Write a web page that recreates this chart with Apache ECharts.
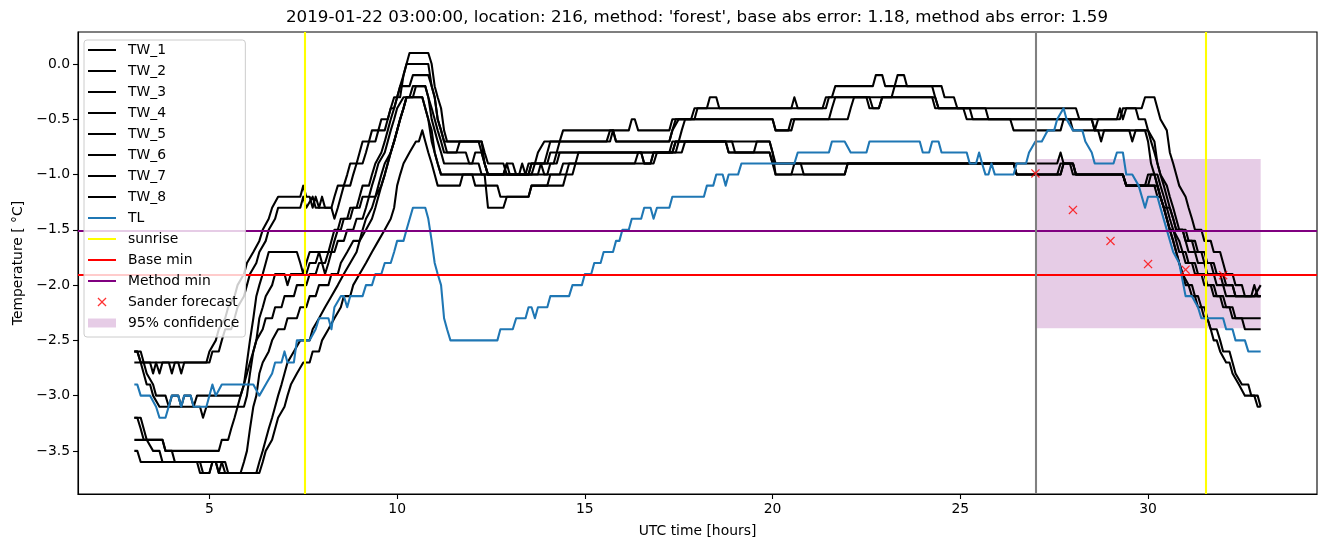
<!DOCTYPE html>
<html><head><meta charset="utf-8">
<script src="https://cdn.jsdelivr.net/npm/echarts@6/dist/echarts.min.js"></script>
<style>html,body{margin:0;padding:0;background:#fff}#c{width:1326px;height:547px}</style>
</head><body><div id="c"></div>
<script>
// ---- data: [UTC hour, temperature °C] ----
const TW_1 = [[3.0,-2.6],[3.08,-2.6],[3.17,-2.7],[3.58,-2.7],[3.67,-2.8],[3.75,-2.7],[3.92,-2.7],[4.0,-2.8],[4.08,-2.7],[4.92,-2.7],[5.0,-2.6],[5.17,-2.5],[5.25,-2.4],[5.42,-2.3],[5.5,-2.2],[5.67,-2.1],[5.75,-2.0],[5.92,-1.9],[6.0,-1.8],[6.17,-1.7],[6.33,-1.6],[6.42,-1.5],[6.58,-1.4],[6.67,-1.3],[6.83,-1.2],[7.42,-1.2],[7.5,-1.1],[7.58,-1.2],[7.67,-1.2],[7.75,-1.3],[7.83,-1.2],[7.92,-1.3],[8.0,-1.2],[8.08,-1.3],[8.25,-1.3],[8.33,-1.2],[8.42,-1.1],[8.58,-1.1],[8.67,-1.0],[8.75,-0.9],[8.92,-0.9],[9.0,-0.8],[9.08,-0.7],[9.25,-0.7],[9.33,-0.6],[9.5,-0.6],[9.58,-0.5],[9.75,-0.5],[9.83,-0.4],[9.92,-0.3],[10.08,-0.3],[10.17,-0.1],[10.25,0.0],[10.33,0.1],[10.83,0.1],[10.92,0.0],[11.0,-0.2],[11.08,-0.3],[11.17,-0.4],[11.25,-0.6],[11.33,-0.7],[12.17,-0.7],[12.25,-0.8],[12.33,-0.9],[12.42,-1.0],[13.42,-1.0],[13.5,-0.9],[13.67,-0.9],[13.75,-0.8],[13.92,-0.7],[14.33,-0.7],[14.42,-0.6],[16.17,-0.6],[16.25,-0.5],[16.33,-0.5],[16.42,-0.6],[17.25,-0.6],[17.33,-0.5],[17.83,-0.5],[17.92,-0.4],[18.25,-0.4],[18.33,-0.3],[18.5,-0.3],[18.58,-0.4],[20.5,-0.4],[20.58,-0.3],[20.67,-0.4],[21.33,-0.4],[21.42,-0.3],[21.58,-0.3],[21.67,-0.2],[22.67,-0.2],[22.75,-0.1],[22.92,-0.1],[23.0,-0.2],[24.25,-0.2],[24.33,-0.3],[24.42,-0.4],[28.08,-0.4],[28.17,-0.5],[29.25,-0.5],[29.33,-0.4],[29.83,-0.4],[29.92,-0.3],[30.17,-0.3],[30.25,-0.4],[30.33,-0.5],[30.5,-0.6],[30.58,-0.8],[30.67,-0.9],[30.75,-1.0],[30.83,-1.1],[31.0,-1.2],[31.08,-1.3],[31.17,-1.4],[31.25,-1.5],[31.42,-1.5],[31.5,-1.6],[31.67,-1.6],[31.75,-1.7],[31.92,-1.7],[32.0,-1.8],[32.08,-1.9],[32.25,-1.9],[32.33,-2.0],[32.5,-2.0],[32.58,-2.1],[32.83,-2.1],[33.0,-2.0]];
const TW_2 = [[3.0,-2.7],[3.42,-2.7],[3.5,-2.8],[3.58,-2.7],[4.17,-2.7],[4.25,-2.8],[4.33,-2.7],[5.0,-2.7],[5.08,-2.6],[5.25,-2.6],[5.33,-2.5],[5.42,-2.4],[5.58,-2.4],[5.67,-2.3],[5.75,-2.2],[5.92,-2.1],[6.0,-2.0],[6.08,-1.9],[6.25,-1.8],[6.33,-1.7],[6.5,-1.6],[6.58,-1.5],[6.75,-1.4],[6.83,-1.3],[7.42,-1.3],[7.5,-1.2],[7.58,-1.3],[7.75,-1.2],[7.83,-1.3],[8.25,-1.3],[8.33,-1.4],[8.42,-1.3],[8.5,-1.2],[8.58,-1.1],[8.75,-1.1],[8.83,-1.0],[8.92,-0.9],[9.08,-0.9],[9.17,-0.8],[9.25,-0.7],[9.42,-0.7],[9.5,-0.6],[9.67,-0.6],[9.75,-0.5],[9.83,-0.4],[9.92,-0.4],[10.0,-0.3],[10.08,-0.2],[10.17,-0.1],[10.25,0.0],[10.83,0.0],[10.92,-0.2],[11.0,-0.3],[11.08,-0.5],[11.17,-0.6],[11.25,-0.7],[11.33,-0.8],[11.58,-0.8],[11.67,-0.7],[12.25,-0.7],[12.33,-0.9],[12.42,-1.0],[12.83,-1.0],[12.92,-0.9],[13.08,-0.9],[13.17,-1.0],[13.5,-1.0],[13.58,-0.9],[13.92,-0.9],[14.0,-0.8],[14.08,-0.7],[15.58,-0.7],[15.67,-0.6],[15.75,-0.6],[15.83,-0.7],[17.25,-0.7],[17.33,-0.6],[17.42,-0.5],[17.92,-0.5],[18.0,-0.4],[21.42,-0.4],[21.5,-0.3],[22.5,-0.3],[22.58,-0.4],[22.83,-0.4],[22.92,-0.3],[23.17,-0.3],[23.25,-0.2],[23.33,-0.1],[23.5,-0.1],[23.58,-0.2],[24.5,-0.2],[24.58,-0.3],[24.83,-0.3],[24.92,-0.4],[25.08,-0.4],[25.17,-0.5],[28.5,-0.5],[28.58,-0.6],[28.67,-0.5],[29.17,-0.5],[29.25,-0.4],[29.33,-0.5],[29.42,-0.4],[29.67,-0.4],[29.75,-0.5],[29.92,-0.5],[30.0,-0.6],[30.17,-0.7],[30.25,-0.9],[30.33,-1.0],[30.5,-1.1],[30.58,-1.2],[30.67,-1.3],[30.75,-1.4],[30.83,-1.5],[31.0,-1.5],[31.08,-1.6],[31.25,-1.6],[31.33,-1.7],[31.5,-1.7],[31.58,-1.8],[31.75,-1.8],[31.83,-1.9],[32.0,-1.9],[32.08,-2.0],[32.25,-2.0],[32.33,-2.1],[33.0,-2.1]];
const TW_3 = [[3.0,-2.6],[3.17,-2.6],[3.25,-2.7],[3.33,-2.8],[3.5,-2.9],[3.58,-3.0],[3.83,-3.0],[3.92,-3.1],[4.0,-3.0],[4.17,-3.0],[4.25,-3.1],[4.33,-3.0],[4.5,-3.0],[4.58,-3.1],[4.67,-3.0],[5.83,-3.0],[5.92,-2.9],[6.0,-2.7],[6.08,-2.5],[6.17,-2.3],[6.25,-2.1],[6.33,-2.0],[6.42,-1.9],[6.5,-1.8],[6.58,-1.7],[7.33,-1.7],[7.42,-1.8],[7.5,-1.9],[7.58,-1.8],[7.67,-1.7],[7.92,-1.7],[8.0,-1.8],[8.08,-1.9],[8.17,-1.8],[8.25,-1.7],[8.33,-1.6],[8.42,-1.5],[8.5,-1.4],[8.67,-1.4],[8.75,-1.3],[8.92,-1.3],[9.0,-1.2],[9.08,-1.1],[9.25,-1.1],[9.33,-1.0],[9.42,-0.9],[9.58,-0.8],[9.67,-0.7],[9.75,-0.6],[9.83,-0.5],[9.92,-0.4],[10.0,-0.3],[10.08,-0.2],[10.33,-0.2],[10.42,-0.1],[10.83,-0.1],[10.92,-0.2],[11.0,-0.3],[11.08,-0.5],[11.17,-0.6],[11.25,-0.7],[12.25,-0.7],[12.33,-0.8],[12.42,-0.9],[12.83,-0.9],[12.92,-1.0],[13.5,-1.0],[13.58,-0.9],[14.0,-0.9],[14.08,-0.8],[14.25,-0.8],[14.33,-0.7],[15.67,-0.7],[15.75,-0.6],[15.83,-0.7],[17.25,-0.7],[17.33,-0.6],[17.5,-0.5],[20.0,-0.5],[20.08,-0.6],[20.42,-0.6],[20.5,-0.5],[21.5,-0.5],[21.58,-0.4],[21.67,-0.3],[24.25,-0.3],[24.33,-0.4],[25.67,-0.4],[25.75,-0.5],[26.33,-0.5],[26.42,-0.6],[27.67,-0.6],[27.75,-0.5],[27.92,-0.5],[28.0,-0.6],[28.67,-0.6],[28.75,-0.7],[28.83,-0.6],[29.5,-0.6],[29.58,-0.7],[29.67,-0.6],[30.0,-0.6],[30.08,-0.7],[30.17,-0.8],[30.25,-0.9],[30.33,-1.0],[30.42,-1.1],[30.5,-1.2],[30.58,-1.3],[30.67,-1.4],[30.75,-1.5],[30.92,-1.5],[31.0,-1.6],[31.17,-1.6],[31.25,-1.7],[31.42,-1.7],[31.5,-1.8],[31.67,-1.8],[31.75,-1.9],[31.92,-1.9],[32.0,-2.0],[32.25,-2.0],[32.33,-2.1],[33.0,-2.1]];
const TW_4 = [[3.0,-2.6],[3.08,-2.6],[3.17,-2.7],[3.25,-2.8],[3.33,-2.9],[3.42,-2.9],[3.5,-3.0],[3.67,-3.1],[4.75,-3.1],[4.83,-3.2],[4.92,-3.1],[5.92,-3.1],[6.0,-3.0],[6.08,-2.8],[6.17,-2.6],[6.25,-2.5],[6.33,-2.3],[6.42,-2.2],[6.5,-2.1],[6.67,-2.0],[6.75,-1.9],[7.0,-1.9],[7.08,-2.0],[7.17,-1.9],[7.58,-1.9],[7.67,-1.8],[7.83,-1.8],[7.92,-1.7],[8.17,-1.7],[8.25,-1.6],[8.33,-1.5],[8.5,-1.5],[8.58,-1.4],[8.75,-1.4],[8.83,-1.3],[9.0,-1.3],[9.08,-1.2],[9.25,-1.2],[9.33,-1.1],[9.42,-1.0],[9.5,-0.9],[9.67,-0.8],[9.75,-0.7],[9.83,-0.6],[9.92,-0.5],[10.0,-0.4],[10.17,-0.3],[10.42,-0.3],[10.5,-0.2],[10.75,-0.2],[10.83,-0.3],[10.92,-0.4],[11.0,-0.5],[11.08,-0.6],[11.17,-0.7],[11.25,-0.8],[11.83,-0.8],[11.92,-0.9],[12.0,-0.9],[12.08,-0.8],[12.25,-0.8],[12.33,-0.9],[12.42,-1.0],[13.58,-1.0],[13.67,-0.9],[14.17,-0.9],[14.25,-0.8],[16.5,-0.8],[16.58,-0.9],[16.75,-0.9],[16.83,-0.8],[17.42,-0.8],[17.5,-0.7],[17.58,-0.6],[17.67,-0.5],[20.0,-0.5],[20.08,-0.6],[20.5,-0.6],[20.58,-0.5],[22.0,-0.5],[22.08,-0.4],[22.17,-0.3],[22.58,-0.3],[22.67,-0.4],[22.83,-0.4],[22.92,-0.3],[24.33,-0.3],[24.42,-0.4],[25.25,-0.4],[25.33,-0.5],[28.5,-0.5],[28.58,-0.6],[29.92,-0.6],[30.0,-0.7],[30.08,-0.9],[30.17,-1.0],[30.25,-1.1],[30.33,-1.2],[30.42,-1.3],[30.58,-1.3],[30.67,-1.4],[30.75,-1.5],[30.92,-1.5],[31.0,-1.6],[31.08,-1.7],[31.25,-1.7],[31.33,-1.8],[31.5,-1.8],[31.58,-1.9],[31.75,-1.9],[31.83,-2.0],[32.0,-2.0],[32.08,-2.1],[32.75,-2.1],[32.83,-2.0],[32.92,-2.1],[33.0,-2.1]];
const TW_5 = [[3.0,-3.2],[3.08,-3.2],[3.17,-3.3],[3.25,-3.4],[3.75,-3.4],[3.83,-3.5],[5.25,-3.5],[5.33,-3.4],[5.5,-3.4],[5.58,-3.3],[5.67,-3.2],[5.75,-3.1],[5.83,-3.0],[5.92,-2.9],[6.0,-2.8],[6.08,-2.7],[6.17,-2.6],[6.25,-2.5],[6.42,-2.4],[6.5,-2.3],[6.67,-2.3],[6.75,-2.2],[6.92,-2.2],[7.0,-2.1],[7.25,-2.1],[7.33,-2.0],[7.58,-2.0],[7.67,-1.9],[7.83,-1.9],[7.92,-1.8],[8.08,-1.8],[8.17,-1.7],[8.33,-1.7],[8.42,-1.6],[8.58,-1.6],[8.67,-1.5],[8.83,-1.5],[8.92,-1.4],[9.08,-1.4],[9.17,-1.3],[9.25,-1.2],[9.42,-1.2],[9.5,-1.1],[9.58,-1.0],[9.67,-0.9],[9.83,-0.8],[9.92,-0.7],[10.0,-0.6],[10.08,-0.5],[10.17,-0.4],[10.25,-0.3],[10.33,-0.3],[10.42,-0.2],[10.75,-0.2],[10.83,-0.3],[10.92,-0.5],[11.0,-0.6],[11.08,-0.7],[11.17,-0.8],[11.25,-0.9],[12.17,-0.9],[12.25,-1.0],[13.25,-1.0],[13.33,-0.9],[13.42,-1.0],[14.0,-1.0],[14.08,-0.9],[14.25,-0.9],[14.33,-0.8],[16.5,-0.8],[16.58,-0.9],[16.83,-0.9],[16.92,-0.8],[17.58,-0.8],[17.67,-0.7],[18.92,-0.7],[19.0,-0.8],[19.5,-0.8],[19.58,-0.7],[19.92,-0.7],[20.0,-0.8],[20.08,-0.9],[27.58,-0.9],[27.67,-0.8],[27.75,-0.9],[28.0,-0.9],[28.08,-1.0],[29.33,-1.0],[29.42,-1.1],[29.92,-1.1],[30.0,-1.0],[30.17,-1.0],[30.25,-1.1],[30.33,-1.2],[30.42,-1.3],[30.5,-1.4],[30.58,-1.5],[30.67,-1.5],[30.75,-1.6],[30.83,-1.7],[31.0,-1.7],[31.08,-1.8],[31.25,-1.8],[31.33,-1.9],[31.5,-1.9],[31.58,-2.0],[31.75,-2.0],[31.83,-2.1],[32.0,-2.1],[32.08,-2.2],[32.25,-2.2],[32.33,-2.3],[33.0,-2.3]];
const TW_6 = [[3.0,-3.2],[3.17,-3.2],[3.25,-3.3],[3.33,-3.4],[3.5,-3.5],[3.67,-3.5],[3.75,-3.6],[4.67,-3.6],[4.75,-3.7],[5.0,-3.7],[5.08,-3.6],[5.33,-3.6],[5.42,-3.7],[5.83,-3.7],[5.92,-3.6],[6.0,-3.5],[6.08,-3.3],[6.17,-3.1],[6.25,-3.0],[6.33,-2.8],[6.42,-2.7],[6.58,-2.6],[6.67,-2.5],[6.83,-2.4],[7.0,-2.4],[7.08,-2.3],[7.33,-2.3],[7.42,-2.2],[7.58,-2.2],[7.67,-2.1],[7.83,-2.1],[7.92,-2.0],[8.17,-2.0],[8.25,-1.9],[8.42,-1.9],[8.5,-1.8],[8.67,-1.7],[8.83,-1.6],[9.0,-1.6],[9.08,-1.5],[9.17,-1.4],[9.33,-1.3],[9.42,-1.2],[9.58,-1.1],[9.67,-1.0],[9.75,-0.9],[9.83,-0.8],[9.92,-0.7],[10.0,-0.6],[10.08,-0.5],[10.17,-0.4],[10.25,-0.3],[10.67,-0.3],[10.75,-0.4],[10.83,-0.5],[10.92,-0.6],[11.0,-0.8],[11.08,-0.9],[11.17,-1.0],[12.0,-1.0],[12.08,-1.1],[12.67,-1.1],[12.75,-1.2],[13.5,-1.2],[13.58,-1.1],[14.0,-1.1],[14.08,-1.0],[14.5,-1.0],[14.58,-0.9],[16.33,-0.9],[16.42,-0.8],[17.25,-0.8],[17.33,-0.7],[18.75,-0.7],[18.83,-0.8],[19.92,-0.8],[20.0,-0.9],[26.42,-0.9],[26.5,-1.0],[27.58,-1.0],[27.67,-0.9],[27.92,-0.9],[28.0,-1.0],[29.33,-1.0],[29.42,-1.1],[30.0,-1.1],[30.08,-1.0],[30.25,-1.0],[30.33,-1.1],[30.42,-1.2],[30.5,-1.3],[30.58,-1.4],[30.67,-1.5],[30.83,-1.6],[30.92,-1.7],[31.0,-1.8],[31.17,-1.8],[31.25,-1.9],[31.42,-1.9],[31.5,-2.0],[31.67,-2.0],[31.75,-2.1],[31.92,-2.1],[32.0,-2.2],[32.17,-2.2],[32.25,-2.3],[32.5,-2.3],[32.58,-2.4],[33.0,-2.4]];
const TW_7 = [[3.0,-3.4],[3.75,-3.4],[3.83,-3.5],[4.0,-3.5],[4.08,-3.6],[5.17,-3.6],[5.25,-3.7],[5.33,-3.6],[5.42,-3.6],[5.5,-3.7],[6.25,-3.7],[6.33,-3.6],[6.42,-3.5],[6.5,-3.4],[6.58,-3.3],[6.67,-3.2],[6.75,-3.1],[6.83,-3.0],[6.92,-2.9],[7.0,-2.8],[7.08,-2.7],[7.25,-2.6],[7.42,-2.5],[7.67,-2.5],[7.75,-2.4],[7.92,-2.3],[8.08,-2.2],[8.25,-2.1],[8.42,-2.0],[8.58,-1.9],[8.75,-1.8],[8.92,-1.7],[9.0,-1.6],[9.17,-1.5],[9.33,-1.4],[9.42,-1.3],[9.58,-1.1],[9.67,-1.0],[9.75,-0.9],[9.83,-0.8],[9.92,-0.7],[10.0,-0.6],[10.08,-0.5],[10.17,-0.4],[10.25,-0.3],[10.67,-0.3],[10.75,-0.4],[10.83,-0.5],[10.92,-0.7],[11.0,-0.8],[11.08,-0.9],[11.17,-1.0],[12.83,-1.0],[12.92,-0.9],[13.0,-1.0],[13.75,-1.0],[13.83,-0.9],[13.92,-1.0],[14.33,-1.0],[14.42,-0.9],[14.75,-0.9],[14.83,-0.8],[17.33,-0.8],[17.42,-0.7],[19.92,-0.7],[20.0,-0.8],[20.08,-1.0],[21.92,-1.0],[22.0,-0.9],[26.42,-0.9],[26.5,-1.0],[27.67,-1.0],[27.75,-0.9],[28.0,-0.9],[28.08,-1.0],[29.33,-1.0],[29.42,-1.1],[30.25,-1.1],[30.33,-1.2],[30.42,-1.3],[30.5,-1.4],[30.58,-1.5],[30.67,-1.6],[30.75,-1.7],[30.83,-1.8],[30.92,-1.9],[31.08,-2.0],[31.17,-2.1],[31.33,-2.1],[31.42,-2.2],[31.5,-2.3],[31.58,-2.3],[31.67,-2.4],[31.75,-2.5],[31.83,-2.5],[31.92,-2.6],[32.08,-2.7],[32.17,-2.7],[32.25,-2.8],[32.42,-2.9],[32.58,-3.0],[32.83,-3.0],[32.92,-3.1],[33.0,-3.1]];
const TW_8 = [[3.0,-3.5],[3.08,-3.5],[3.17,-3.6],[4.75,-3.6],[4.83,-3.7],[5.0,-3.7],[5.08,-3.6],[5.17,-3.6],[5.25,-3.7],[6.33,-3.7],[6.42,-3.6],[6.5,-3.5],[6.67,-3.4],[6.75,-3.3],[6.83,-3.2],[7.0,-3.1],[7.08,-3.0],[7.17,-2.9],[7.33,-2.8],[7.5,-2.7],[7.67,-2.7],[7.75,-2.6],[7.92,-2.6],[8.0,-2.5],[8.17,-2.4],[8.33,-2.3],[8.5,-2.2],[8.58,-2.1],[8.75,-2.1],[8.83,-2.0],[9.0,-1.9],[9.17,-1.8],[9.33,-1.7],[9.5,-1.6],[9.67,-1.5],[9.83,-1.4],[9.92,-1.3],[10.0,-1.1],[10.08,-1.0],[10.17,-0.9],[10.33,-0.8],[10.5,-0.7],[10.58,-0.7],[10.67,-0.6],[10.75,-0.7],[10.83,-0.8],[10.92,-0.9],[11.0,-1.0],[11.08,-1.1],[11.67,-1.1],[11.75,-1.0],[12.33,-1.0],[12.42,-1.3],[12.83,-1.3],[12.92,-1.2],[13.5,-1.2],[13.58,-1.1],[14.42,-1.1],[14.5,-1.0],[14.67,-1.0],[14.75,-0.9],[16.75,-0.9],[16.83,-0.8],[17.33,-0.8],[17.42,-0.7],[18.75,-0.7],[18.83,-0.8],[19.92,-0.8],[20.0,-0.9],[20.08,-1.0],[20.5,-1.0],[20.58,-0.9],[20.75,-0.9],[20.83,-1.0],[21.92,-1.0],[22.0,-0.9],[26.42,-0.9],[26.5,-1.0],[27.67,-1.0],[27.75,-0.9],[28.0,-0.9],[28.08,-1.0],[29.33,-1.0],[29.42,-1.1],[30.17,-1.1],[30.25,-1.2],[30.33,-1.2],[30.42,-1.3],[30.5,-1.4],[30.58,-1.5],[30.67,-1.6],[30.75,-1.7],[30.83,-1.8],[30.92,-1.9],[31.0,-2.0],[31.17,-2.0],[31.25,-2.1],[31.33,-2.2],[31.5,-2.2],[31.58,-2.3],[31.67,-2.4],[31.83,-2.4],[31.92,-2.5],[32.0,-2.6],[32.17,-2.6],[32.25,-2.7],[32.33,-2.8],[32.5,-2.9],[32.67,-2.9],[32.75,-3.0],[32.92,-3.0],[33.0,-3.1]];
const TL = [[3.0,-2.9],[3.08,-2.9],[3.17,-3.0],[3.42,-3.0],[3.58,-3.1],[3.67,-3.2],[3.83,-3.2],[4.0,-3.0],[4.17,-3.0],[4.25,-3.1],[4.33,-3.0],[4.5,-3.0],[4.58,-3.1],[4.92,-3.1],[5.08,-2.9],[5.17,-3.0],[5.33,-2.9],[6.17,-2.9],[6.33,-3.0],[6.5,-2.9],[6.67,-2.8],[6.75,-2.7],[6.92,-2.7],[7.0,-2.6],[7.08,-2.7],[7.25,-2.7],[7.33,-2.5],[7.67,-2.5],[7.83,-2.4],[7.92,-2.3],[8.17,-2.3],[8.25,-2.4],[8.33,-2.2],[8.5,-2.1],[8.58,-2.1],[8.67,-2.2],[8.75,-2.1],[9.08,-2.1],[9.17,-2.0],[9.33,-2.0],[9.42,-1.9],[9.58,-1.9],[9.67,-1.8],[9.83,-1.8],[9.92,-1.7],[10.0,-1.6],[10.17,-1.6],[10.25,-1.5],[10.42,-1.3],[10.75,-1.3],[10.83,-1.4],[10.92,-1.6],[11.0,-1.8],[11.08,-1.9],[11.17,-2.0],[11.25,-2.3],[11.33,-2.4],[11.42,-2.5],[12.67,-2.5],[12.75,-2.4],[13.08,-2.4],[13.17,-2.3],[13.42,-2.3],[13.5,-2.2],[13.58,-2.2],[13.67,-2.3],[13.75,-2.2],[14.0,-2.2],[14.08,-2.1],[14.58,-2.1],[14.67,-2.0],[14.92,-2.0],[15.0,-1.9],[15.17,-1.9],[15.25,-1.8],[15.42,-1.8],[15.5,-1.7],[15.75,-1.7],[15.83,-1.6],[15.92,-1.6],[16.0,-1.5],[16.17,-1.5],[16.25,-1.4],[16.5,-1.4],[16.58,-1.3],[16.75,-1.3],[16.83,-1.4],[16.92,-1.3],[17.25,-1.3],[17.33,-1.2],[18.17,-1.2],[18.25,-1.1],[18.42,-1.1],[18.5,-1.0],[18.67,-1.0],[18.75,-1.1],[18.83,-1.0],[19.08,-1.0],[19.17,-0.9],[20.58,-0.9],[20.67,-0.8],[21.5,-0.8],[21.58,-0.7],[21.92,-0.7],[22.08,-0.8],[22.5,-0.8],[22.58,-0.7],[23.92,-0.7],[24.0,-0.8],[24.17,-0.8],[24.25,-0.7],[24.42,-0.7],[24.5,-0.8],[25.17,-0.8],[25.25,-0.9],[25.42,-0.9],[25.5,-0.8],[25.58,-0.9],[25.67,-1.0],[25.75,-1.0],[25.83,-0.9],[25.92,-1.0],[26.42,-1.0],[26.5,-0.9],[26.75,-0.9],[26.83,-0.8],[27.0,-0.7],[27.17,-0.7],[27.33,-0.6],[27.5,-0.6],[27.58,-0.5],[27.75,-0.4],[27.83,-0.5],[28.0,-0.6],[28.25,-0.6],[28.33,-0.7],[28.5,-0.8],[28.58,-0.9],[29.08,-0.9],[29.17,-0.8],[29.33,-0.8],[29.42,-1.0],[29.58,-1.0],[29.75,-1.1],[29.92,-1.3],[30.0,-1.2],[30.25,-1.2],[30.33,-1.3],[30.5,-1.5],[30.67,-1.7],[30.83,-1.8],[31.0,-2.1],[31.17,-2.1],[31.33,-2.2],[31.42,-2.3],[32.0,-2.3],[32.08,-2.4],[32.25,-2.4],[32.33,-2.5],[32.58,-2.5],[32.67,-2.6],[33.0,-2.6]];
const SUNRISE = [7.55, 31.55];
const BASE_MIN = -1.91;
const METHOD_MIN = -1.51;
const FORECAST_START = 27.0;
const FORECAST = [[27,-0.99],[28,-1.32],[29,-1.60],[30,-1.81],[31,-1.86],[32,-1.91]];
const CONF_X = [27, 33];
const CONF_Y = [-2.39, -0.86];
const X_TICKS = [5, 10, 15, 20, 25, 30];
const Y_TICKS = [-3.5, -3.0, -2.5, -2.0, -1.5, -1.0, -0.5, 0.0];
const X_RANGE = [1.5, 34.5];
const Y_RANGE = [-3.89, 0.29];
const TITLE = "2019-01-22 03:00:00, location: 216, method: 'forest', base abs error: 1.18, method abs error: 1.59";

const FONT = 'DejaVu Sans';
const LW = 2.08;
const LINE_ICON = 'path://M0,0H28V2H0Z';
const X_ICON = 'path://M0,1L1,0L5,4L9,0L10,1L6,5L10,9L9,10L5,6L1,10L0,9L4,5Z';
const TW = [TW_1, TW_2, TW_3, TW_4, TW_5, TW_6, TW_7, TW_8];

const series = [];
TW.forEach((d, i) => series.push({
  name: 'TW_' + (i + 1), type: 'line', data: d, showSymbol: false, symbol: 'none', z: 2,
  color: '#000000', itemStyle: {color: '#000000'},
  lineStyle: {color: '#000000', width: LW, join: 'round'}, silent: true, animation: false
}));
series.push({name: 'TL', type: 'line', data: TL, showSymbol: false, symbol: 'none', z: 3,
  color: '#1f77b4', itemStyle: {color: '#1f77b4'},
  lineStyle: {color: '#1f77b4', width: LW, join: 'round'}, silent: true});
function refSeries(name, color, lines, z) {
  return {name: name, type: 'line', data: [], z: z, color: color, itemStyle: {color: color}, silent: true,
    markLine: {silent: true, symbol: ['none', 'none'], label: {show: false}, emphasis: {disabled: true},
      animation: false, lineStyle: {color: color, width: LW, type: 'solid'}, data: lines}};
}
series.push(refSeries('sunrise', '#ffff00', SUNRISE.map(v => ({xAxis: v})), 4));
series.push(refSeries('Base min', '#ff0000', [{yAxis: BASE_MIN}], 4));
series.push(refSeries('Method min', '#800080', [{yAxis: METHOD_MIN}], 4));
series.push({name: 'Sander forecast', type: 'scatter', data: FORECAST, symbol: X_ICON, symbolSize: 9, z: 6,
  color: '#ff0000', itemStyle: {color: '#ff0000'}, silent: true});
series.push({name: '95% confidence', type: 'line', data: [], z: 1, color: 'rgba(128,0,128,0.2)',
  itemStyle: {color: 'rgba(128,0,128,0.2)'}, silent: true,
  markArea: {silent: true, itemStyle: {color: 'rgba(128,0,128,0.2)'}, emphasis: {disabled: true},
    data: [[{xAxis: CONF_X[0], yAxis: CONF_Y[1]}, {xAxis: CONF_X[1], yAxis: CONF_Y[0]}]]}});
series.push(refSeries('forecast start', '#808080', [{xAxis: FORECAST_START}], 5));

const legendNames = ['TW_1','TW_2','TW_3','TW_4','TW_5','TW_6','TW_7','TW_8','TL','sunrise','Base min','Method min','Sander forecast','95% confidence'];
const legendData = legendNames.map(n => ({name: n,
  icon: n === 'Sander forecast' ? X_ICON : (n === '95% confidence' ? 'rect' : LINE_ICON)}));

const chart = echarts.init(document.getElementById('c'), null, {renderer: 'canvas'});
chart.setOption({
  animation: false,
  backgroundColor: '#ffffff',
  title: {text: TITLE, left: 692, top: 4, textAlign: 'center',
    textStyle: {fontFamily: FONT, fontSize: 16.7, fontWeight: 'normal', color: '#000'}},
  grid: {left: 78, right: 9, top: 32, bottom: 53, show: true, borderColor: '#000', borderWidth: 1.1, backgroundColor: 'transparent'},
  legend: {orient: 'vertical', left: 84, top: 40, itemWidth: 28, itemHeight: 9, itemGap: 7,
    padding: [3, 6, 7, 4], backgroundColor: 'rgba(255,255,255,0.8)', borderColor: '#cccccc', borderWidth: 1, borderRadius: 3,
    selectedMode: false, z: 20, itemStyle: {borderWidth: 0},
    textStyle: {fontFamily: FONT, fontSize: 13.9, color: '#000', lineHeight: 14, padding: [0, 0, 0, 7]},
    data: legendData},
  xAxis: {type: 'value', min: X_RANGE[0], max: X_RANGE[1],
    name: 'UTC time [hours]', nameLocation: 'middle', nameGap: 30,
    nameTextStyle: {fontFamily: FONT, fontSize: 13.9, color: '#000'},
    axisLine: {onZero: false, lineStyle: {color: '#000', width: 1.1}},
    axisTick: {customValues: X_TICKS, length: 5, lineStyle: {color: '#000', width: 1.1}},
    axisLabel: {customValues: X_TICKS, margin: 8, fontFamily: FONT, fontSize: 13.9, color: '#000'},
    splitLine: {show: false}},
  yAxis: {type: 'value', min: Y_RANGE[0], max: Y_RANGE[1],
    name: 'Temperature [ °C]', nameLocation: 'middle', nameGap: 52, nameRotate: 90,
    nameTextStyle: {fontFamily: FONT, fontSize: 13.9, color: '#000'},
    axisLine: {onZero: false, lineStyle: {color: '#000', width: 1.1}},
    axisTick: {customValues: Y_TICKS, length: 5, lineStyle: {color: '#000', width: 1.1}},
    axisLabel: {customValues: Y_TICKS, margin: 8, fontFamily: FONT, fontSize: 13.9, color: '#000',
      formatter: v => (v < 0 ? '\u2212' : '') + Math.abs(v).toFixed(1)},
    splitLine: {show: false}},
  series: series
});
</script></body></html>
